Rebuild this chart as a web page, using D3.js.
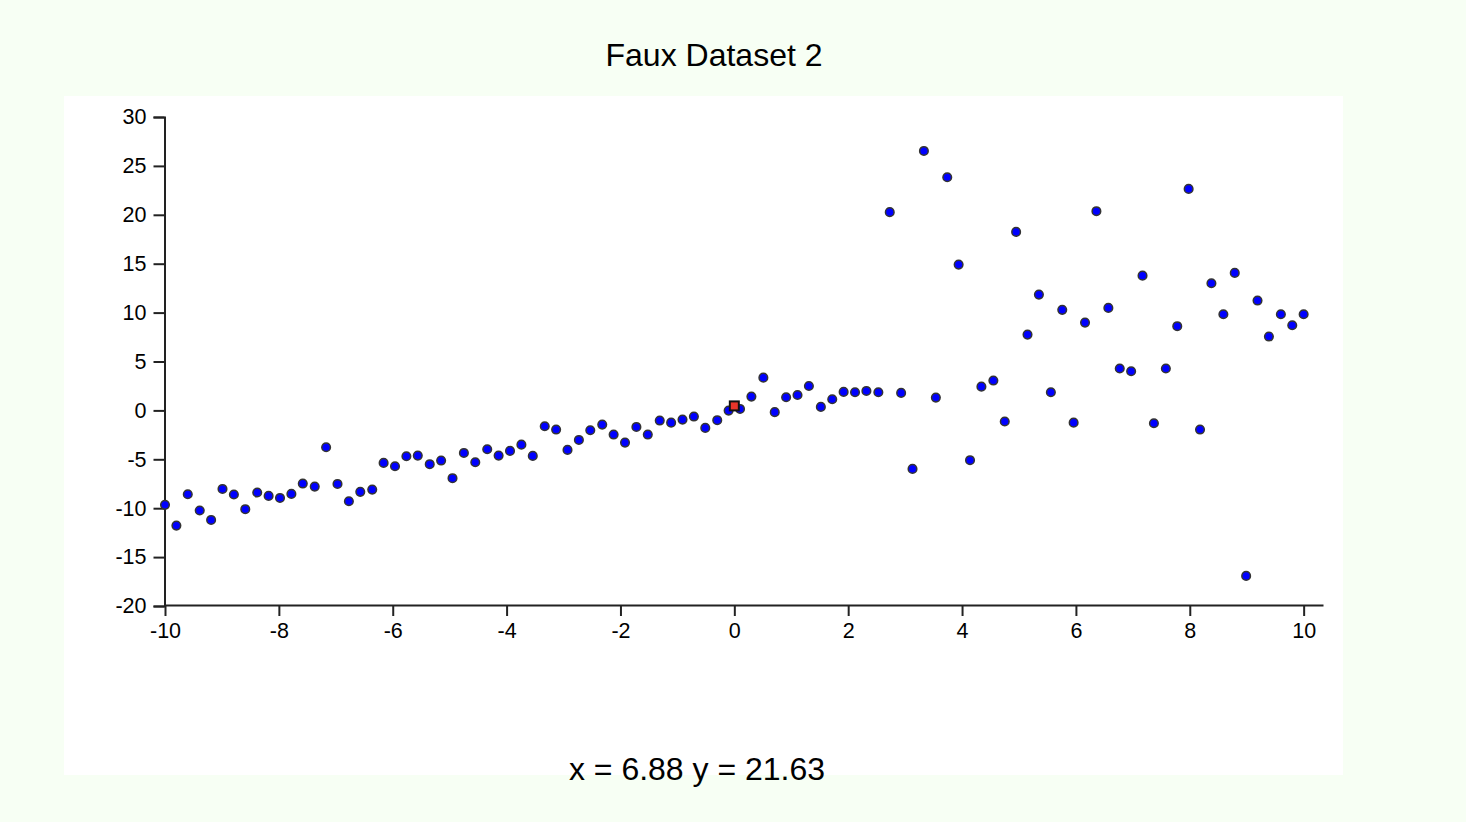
<!DOCTYPE html>
<html>
   <head>
      <meta charset="utf-8">
      <style>
         body { margin: 0; background: #f7fff4; }
         svg { display: block; font-family: "Liberation Sans", Arial, sans-serif; }
      </style>
      <script src="https://d3js.org/d3.v7.min.js"></script>
      <title> Faux Dataset 2 </title>
   </head>
   <body>
      <svg width="1466" height="822"></svg>

      <script>
         // x positions of the samples
         var xValues = [
            -10.00, -9.80, -9.60, -9.39, -9.19, -8.99, -8.79, -8.59, -8.38, -8.18,
            -7.98, -7.78, -7.58, -7.37, -7.17, -6.97, -6.77, -6.57, -6.36, -6.16,
            -5.96, -5.76, -5.56, -5.35, -5.15, -4.95, -4.75, -4.55, -4.34, -4.14,
            -3.94, -3.74, -3.54, -3.33, -3.13, -2.93, -2.73, -2.53, -2.32, -2.12,
            -1.92, -1.72, -1.52, -1.31, -1.11, -0.91, -0.71, -0.51, -0.30, -0.10,
            0.10, 0.30, 0.51, 0.71, 0.91, 1.11, 1.31, 1.52, 1.72, 1.92,
            2.12, 2.32, 2.53, 2.73, 2.93, 3.13, 3.33, 3.54, 3.74, 3.94,
            4.14, 4.34, 4.55, 4.75, 4.95, 5.15, 5.35, 5.56, 5.76, 5.96,
            6.16, 6.36, 6.57, 6.77, 6.97, 7.17, 7.37, 7.58, 7.78, 7.98,
            8.18, 8.38, 8.59, 8.79, 8.99, 9.19, 9.39, 9.60, 9.80, 10.00
         ];
         // y values
         var yValues = [
            -9.66, -11.78, -8.57, -10.24, -11.2, -8.03, -8.6, -10.1, -8.4, -8.74,
            -8.95, -8.54, -7.48, -7.79, -3.77, -7.52, -9.29, -8.33, -8.1, -5.37,
            -5.71, -4.69, -4.62, -5.5, -5.13, -6.93, -4.35, -5.3, -3.97, -4.62,
            -4.14, -3.5, -4.65, -1.62, -1.96, -4.04, -3.02, -2.03, -1.45, -2.47,
            -3.29, -1.69, -2.47, -1.04, -1.25, -0.94, -0.63, -1.79, -1.0, -0.02,
            0.15, 1.41, 3.35, -0.18, 1.35, 1.58, 2.5, 0.36, 1.14, 1.89,
            1.86, 1.99, 1.86, 20.27, 1.79, -5.98, 26.53, 1.31, 23.84, 14.91,
            -5.09, 2.43, 3.05, -1.14, 18.25, 7.75, 11.84, 1.86, 10.28, -1.25,
            8.98, 20.37, 10.48, 4.28, 4.0, 13.78, -1.31, 4.28, 8.61, 22.65,
            -1.96, 13.0, 9.83, 14.06, -16.92, 11.23, 7.55, 9.83, 8.71, 9.83
         ];
         // the red marker
         var markerX = [0];
         var markerY = [0.46];

         var xTicks = [-10, -8, -6, -4, -2, 0, 2, 4, 6, 8, 10];
         var yTicks = [-20, -15, -10, -5, 0, 5, 10, 15, 20, 25, 30];

         var svg = d3.select("svg");

         svg.append("rect")
            .attr("x", 64).attr("y", 96)
            .attr("width", 1279).attr("height", 679)
            .attr("fill", "#ffffff");

         svg.append("text")
            .attr("x", 714).attr("y", 66)
            .attr("text-anchor", "middle")
            .attr("font-size", "32px")
            .attr("fill", "#000")
            .text("Faux Dataset 2");

         var x = d3.scaleLinear().domain([-10, 10.34]).range([165, 1323]),
             y = d3.scaleLinear().domain([-20, 30]).range([606, 117]);

         var plain = function(d) { return String(d); };

         // x axis
         var gx = svg.append("g")
            .attr("transform", "translate(0," + 605 + ")")
            .call(d3.axisBottom(x).tickValues(xTicks).tickFormat(plain)
               .tickSize(11).tickSizeOuter(0).tickPadding(7));
         // y axis
         var gy = svg.append("g")
            .attr("transform", "translate(" + 164.5 + ",0)")
            .call(d3.axisLeft(y).tickValues(yTicks).tickFormat(plain)
               .tickSize(11).tickPadding(7));

         [gx, gy].forEach(function(g) {
            g.attr("font-family", null).attr("font-size", "21.5px");
            g.selectAll("path, line").attr("stroke", "#222").attr("stroke-width", 2);
            g.selectAll("text").attr("fill", "#000");
         });

         var pts = xValues.map(function(v, i) { return { x: v, y: yValues[i] }; });

         svg.append("g").selectAll("circle")
            .data(pts)
            .enter().append("circle")
            .attr("cx", function(d) { return x(d.x); })
            .attr("cy", function(d) { return y(d.y); })
            .attr("r", 4.3)
            .attr("fill", "#0000ff")
            .attr("stroke", "#333")
            .attr("stroke-width", 1.5);

         svg.append("g").selectAll("rect")
            .data(markerX.map(function(v, i) { return { x: v, y: markerY[i] }; }))
            .enter().append("rect")
            .attr("x", function(d) { return x(d.x) - 4.5; })
            .attr("y", function(d) { return y(d.y) - 4.5; })
            .attr("width", 9).attr("height", 9)
            .attr("fill", "#e8352a")
            .attr("stroke", "#111")
            .attr("stroke-width", 2);

         svg.append("text")
            .attr("x", 697).attr("y", 780)
            .attr("text-anchor", "middle")
            .attr("font-size", "32px")
            .attr("fill", "#000")
            .text("x = 6.88 y = 21.63");
      </script>
   </body>
</html>
